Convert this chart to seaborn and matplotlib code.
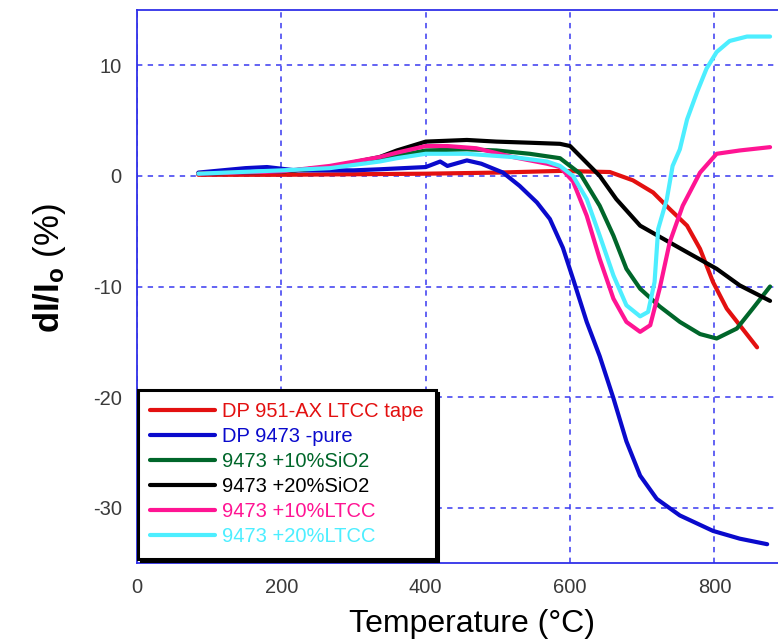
import numpy as np
import pandas as pd
import matplotlib
matplotlib.use("Agg")
import matplotlib.pyplot as plt
from matplotlib.lines import Line2D
import seaborn as sns

sns.set_theme(style="white")
plt.rcParams['font.family'] = ['Liberation Sans', 'DejaVu Sans']
plt.rcParams['mathtext.fontset'] = 'custom'
plt.rcParams['mathtext.bf'] = 'Liberation Sans:bold'
plt.rcParams['mathtext.rm'] = 'Liberation Sans'
plt.rcParams['axes.unicode_minus'] = False

#%%== data (temperature in C, dI/Io in %)
labels = ["DP 951-AX LTCC tape", "DP 9473 -pure", "9473 +10%SiO2",
          "9473 +20%SiO2", "9473 +10%LTCC", "9473 +20%LTCC"]
colors = ["#E31010", "#0A0ACC", "#00662A", "#000000", "#FF1493", "#4DEEFF"]

t_red = [85, 200, 300, 400, 500, 586, 655, 687, 715, 738, 762, 780, 798, 817, 835, 859]
v_red = [0.1, 0.1, 0.15, 0.2, 0.3, 0.45, 0.35, -0.4, -1.5, -3.0, -4.5, -6.6, -9.6, -12.0, -13.5, -15.5]

t_blue = [85, 150, 180, 220, 300, 337, 400, 420, 430, 457, 477, 507, 530, 554, 572,
          590, 605, 623, 641, 660, 678, 697, 720, 752, 798, 835, 873]
v_blue = [0.3, 0.7, 0.8, 0.5, 0.5, 0.6, 0.8, 1.3, 0.9, 1.4, 1.1, 0.3, -0.9, -2.4, -3.9,
          -6.5, -9.5, -13.2, -16.3, -20.1, -24.0, -27.1, -29.2, -30.7, -32.1, -32.8, -33.3]

t_green = [85, 200, 267, 336, 360, 400, 457, 498, 544, 586, 614, 641, 660, 678, 697,
           724, 752, 780, 803, 831, 853, 877]
v_green = [0.2, 0.4, 0.8, 1.4, 1.8, 2.3, 2.4, 2.3, 2.0, 1.6, 0.2, -2.7, -5.4, -8.4, -10.2,
           -11.8, -13.2, -14.3, -14.7, -13.8, -12.0, -10.0]

t_black = [85, 200, 267, 336, 360, 400, 457, 498, 544, 586, 600, 641, 664, 697, 724,
           762, 803, 835, 877]
v_black = [0.2, 0.4, 0.8, 1.7, 2.3, 3.1, 3.25, 3.1, 3.0, 2.9, 2.7, 0.0, -2.1, -4.5, -5.5,
           -6.9, -8.4, -9.9, -11.3]

t_pink = [85, 200, 267, 336, 360, 400, 430, 470, 521, 568, 586, 604, 623, 641, 660, 678,
          697, 711, 724, 738, 756, 780, 803, 835, 877]
v_pink = [0.2, 0.4, 0.9, 1.7, 2.1, 2.7, 2.7, 2.5, 1.7, 1.1, 0.8, -0.5, -3.6, -7.5, -11.1, -13.2,
          -14.1, -13.5, -10.2, -6.0, -2.7, 0.3, 2.0, 2.3, 2.6]

t_cyan = [85, 200, 267, 336, 360, 400, 457, 521, 568, 586, 604, 623, 641, 660, 678, 697,
          708, 717, 722, 734, 742, 752, 762, 776, 789, 803, 821, 845, 877]
v_cyan = [0.2, 0.5, 0.7, 1.3, 1.6, 2.0, 2.0, 1.7, 1.3, 0.9, 0.0, -2.1, -5.4, -9.0, -11.7, -12.7,
          -12.3, -9.6, -4.8, -2.1, 0.9, 2.4, 5.1, 7.6, 9.7, 11.2, 12.2, 12.6, 12.6]

temps = [t_red, t_blue, t_green, t_black, t_pink, t_cyan]
vals = [v_red, v_blue, v_green, v_black, v_pink, v_cyan]

df = pd.concat([pd.DataFrame({'T': t, 'dI': v, 'sample': lab})
                for t, v, lab in zip(temps, vals, labels)], ignore_index=True)

#%%== plot
fig = plt.figure(figsize=(7.78, 6.40), dpi=100)
ax = fig.add_axes([137/778, 77/640, 641/778, 553/640])

sns.lineplot(data=df, x='T', y='dI', hue='sample', hue_order=labels,
             palette=dict(zip(labels, colors)), linewidth=3, estimator=None,
             sort=False, legend=False, ax=ax)

ax.set_xlim(0, 888)
ax.set_ylim(-35, 15)
ax.set_xticks([0, 200, 400, 600, 800])
ax.set_yticks([10, 0, -10, -20, -30])
ax.grid(True, color='#3838F0', linestyle=(0, (3.5, 3.5)), linewidth=1.1)
ax.tick_params(length=0, labelsize=14.5, labelcolor='#3a3a3a', pad=11)

for s in ['left', 'top', 'bottom']:
    ax.spines[s].set_color('#3030E8')
    ax.spines[s].set_linewidth(1.3)
ax.spines['right'].set_visible(False)

ax.set_xlabel("Temperature (°C)", fontsize=23, color='black')
ax.xaxis.set_label_coords(0.523, -0.083)
ax.set_ylabel(r"$\mathbf{dI/I_o}$ (%)", fontsize=25, color='black')
ax.yaxis.set_label_coords(-0.108, 0.533)

handles = [Line2D([0], [0], color=c, lw=3) for c in colors]
leg = ax.legend(handles, labels, loc='lower left', bbox_to_anchor=(0.002, 0.008),
                borderaxespad=0, fontsize=14.5, handlelength=3.2, handletextpad=0.35,
                labelspacing=0.3, borderpad=0.6, fancybox=False, framealpha=1,
                shadow={'color': 'black', 'alpha': 1})
leg.get_frame().set_edgecolor('black')
leg.get_frame().set_linewidth(2.2)
for txt, c in zip(leg.get_texts(), colors):
    txt.set_color(c)

fig.savefig('out.png', dpi=100)
